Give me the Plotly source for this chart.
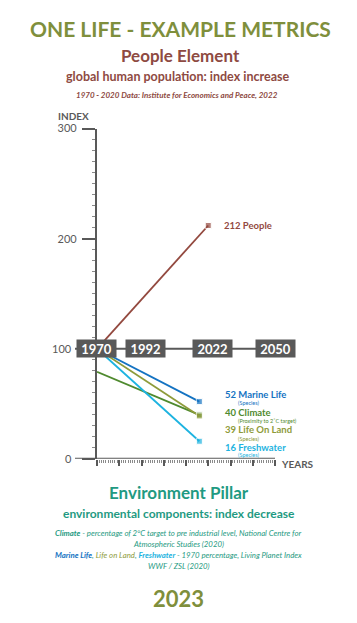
import plotly.graph_objects as go

W, H = 357, 623

# ---- data ----
people_years = [1970, 2020]
people_index = [100, 212]
marine_years = [1970, 2016]
marine_index = [100, 52]
climate_years = [1970, 2016]
climate_index = [79, 40]
land_years = [1970, 2016]
land_index = [100, 39]
fresh_years = [1970, 2016]
fresh_index = [100, 16]
timeline_years = [1970, 1992, 2022, 2050]
y_tick_vals = [0, 100, 200, 300]
y_tick_text = ["", "", "200", "300"]

C_OLIVE = "#7F8F3C"
C_BROWN = "#8E4A42"
C_TEAL = "#1F9A82"
C_PEOPLE = "#93493F"
C_MARINE = "#1473C2"
C_CLIMATE = "#4F8A2E"
C_LAND = "#8E9B3A"
C_FRESH = "#1DB3E0"
C_GREY = "#595959"
FONT = "Lato"


def px(x):
    return x / W


def py(y):
    return 1 - y / H


fig = go.Figure()

series = [
    (people_years, people_index, C_PEOPLE),
    (marine_years, marine_index, C_MARINE),
    (climate_years, climate_index, C_CLIMATE),
    (land_years, land_index, C_LAND),
    (fresh_years, fresh_index, C_FRESH),
]
for xs, ys, col in series:
    fig.add_trace(go.Scatter(
        x=xs, y=ys, mode="lines+markers",
        line=dict(color=col, width=1.8),
        marker=dict(symbol="square", size=[0, 6], color=col),
        hoverinfo="skip", showlegend=False, cliponaxis=False,
    ))

x0p, x1p = 97, 275
y0p, y1p = 457, 123

fig.update_layout(
    width=W, height=H,
    margin=dict(l=0, r=0, t=0, b=0),
    paper_bgcolor="white", plot_bgcolor="white",
    font=dict(family=FONT, color=C_GREY),
    xaxis=dict(
        domain=[px(x0p), px(x1p)], range=[1970, 2050],
        showgrid=False, zeroline=False, showline=False,
        ticks="outside", tickvals=[1970 + 10 * i for i in range(9)],
        ticklen=6, tickwidth=1.5, tickcolor=C_GREY,
        showticklabels=False,
        minor=dict(dtick=1, tick0=1970, ticks="outside", ticklen=3, tickwidth=0.8, tickcolor="#8a8a8a"),
    ),
    yaxis=dict(
        domain=[py(y0p), py(y1p)], range=[0, 300],
        showgrid=False, zeroline=False,
        showline=True, linecolor=C_GREY, linewidth=2.2,
        ticks="outside", tickvals=y_tick_vals, ticktext=y_tick_text,
        ticklen=13, tickwidth=2, tickcolor=C_GREY,
        tickfont=dict(size=11, color=C_GREY, family=FONT), ticklabelstandoff=3,
        minor=dict(dtick=10, ticks="outside", ticklen=3, tickwidth=0.8, tickcolor="#8a8a8a"),
    ),
)

shapes = []
# x baseline (extends left of y axis)
shapes.append(dict(type="line", xref="paper", yref="y", x0=px(75), x1=px(x1p), y0=0, y1=0,
                   line=dict(color=C_GREY, width=2.2), layer="above"))
# timeline at 100
shapes.append(dict(type="line", xref="paper", yref="y", x0=px(75), x1=px(293), y0=100, y1=100,
                   line=dict(color=C_GREY, width=2), layer="below"))
fig.update_layout(shapes=shapes)

ann = []
for yr in timeline_years:
    ann.append(dict(x=yr, y=100, xref="x", yref="y", text="<b>%d</b>" % yr,
                    showarrow=False, bgcolor=C_GREY, width=35, height=13, borderpad=2,
                    font=dict(size=13, color="white", family=FONT)))

# y labels for 0 and 100 sit further left (clear of baseline / 1970 box)
for v in (0, 100):
    ann.append(dict(x=px(74), y=v, xref="paper", yref="y", text=str(v), showarrow=False,
                    xanchor="right", yanchor="middle",
                    font=dict(size=11, color=C_GREY, family=FONT)))


def t(x, y, text, size, color, xanchor="center", italic=False):
    ann.append(dict(x=px(x), y=py(y), xref="paper", yref="paper", text=text,
                    showarrow=False, xanchor=xanchor, yanchor="middle",
                    font=dict(size=size, color=color, family=FONT,
                              style="italic" if italic else "normal")))


t(180, 22, "<b>ONE LIFE - EXAMPLE METRICS</b>", 21, C_OLIVE)
t(180, 49, "<b>People Element</b>", 17, C_BROWN)
t(177, 70, "<b>global human population: index increase</b>", 12.5, C_BROWN)
t(177, 89, "<b>1970 - 2020 Data: Institute for Economics and Peace, 2022</b>", 8, C_BROWN, italic=True)

t(73, 110, "<b>INDEX</b>", 10, C_GREY)
t(279, 462, "<b>YEARS</b>", 10, C_GREY, xanchor="left")

t(222, 221, "<b>212 People</b>", 9.5, C_PEOPLE, xanchor="left")
t(223, 392, "<b>52 Marine Life</b>", 9.5, C_MARINE, xanchor="left")
t(236, 400.5, "(Species)", 5.5, C_MARINE, xanchor="left")
t(223, 410, "<b>40 Climate</b>", 9.5, C_CLIMATE, xanchor="left")
t(236, 418.5, "(Proximity to 2˚C target)", 5.5, C_CLIMATE, xanchor="left")
t(223, 427.5, "<b>39 Life On Land</b>", 9.5, C_LAND, xanchor="left")
t(236, 436.5, "(Species)", 5.5, C_LAND, xanchor="left")
t(223, 445.5, "<b>16 Freshwater</b>", 9.5, C_FRESH, xanchor="left")
t(236, 453.5, "(Species)", 5.5, C_FRESH, xanchor="left")

t(179, 491, "<b>Environment Pillar</b>", 17, C_TEAL)
t(179, 512, "<b>environmental components: index decrease</b>", 12, C_TEAL)
t(178, 532, "<b>Climate</b> - percentage of 2°C target to pre industrial level, National Centre for",
  7.8, C_TEAL, italic=True)
t(178, 543, "Atmospheric Studies (2020)", 7.8, C_TEAL, italic=True)
t(178, 554, "<b><span style='color:%s'>Marine Life</span></b>, <span style='color:%s'>Life on Land</span>, "
  "<b><span style='color:%s'>Freshwater</span></b> - 1970 percentage, Living Planet Index" % (C_MARINE, C_LAND, C_FRESH),
  7.8, C_TEAL, italic=True)
t(178, 565, "WWF / ZSL (2020)", 7.8, C_TEAL, italic=True)
t(178, 598, "<b>2023</b>", 22, C_OLIVE)

fig.update_layout(annotations=ann)
fig.write_html("out.html", config={"displayModeBar": False},
               post_script="document.body.style.margin='0';")
